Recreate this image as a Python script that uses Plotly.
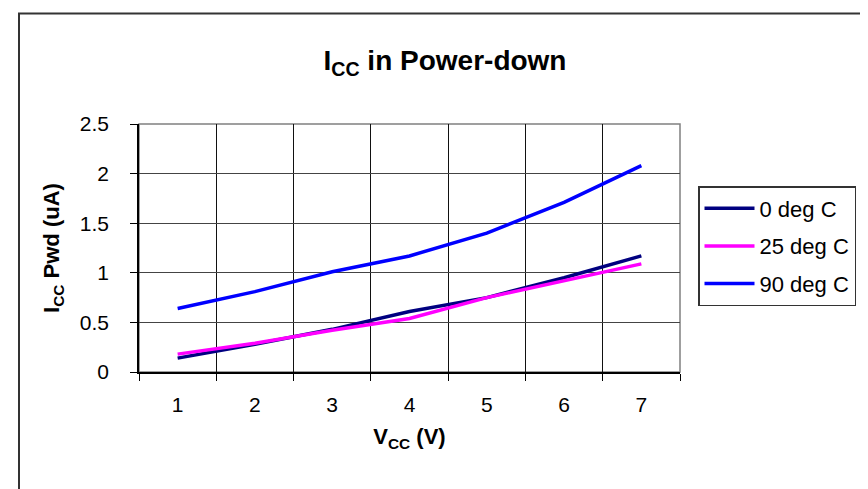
import plotly.graph_objects as go

# data
vcc = ["1", "2", "3", "4", "5", "6", "7"]
icc_0c = [0.14, 0.28, 0.43, 0.61, 0.75, 0.95, 1.17]
icc_25c = [0.18, 0.29, 0.42, 0.54, 0.75, 0.92, 1.09]
icc_90c = [0.64, 0.81, 1.01, 1.17, 1.40, 1.71, 2.08]

series = [
    ("0 deg C", icc_0c, "#000080"),
    ("25 deg C", icc_25c, "#FF00FF"),
    ("90 deg C", icc_90c, "#0000FF"),
]

W, H = 868, 489
L, R, T, B = 131, 196, 116, 125
font = "Liberation Sans, Arial, sans-serif"

fig = go.Figure()
for name, vals, col in series:
    fig.add_trace(go.Scatter(x=vcc, y=vals, name=name, mode="lines",
                             legendgroup=name,
                             line=dict(color=col, width=3.5)))

pw = W - L - R
ph = H - T - B

fig.update_layout(
    width=W, height=H,
    margin=dict(l=L, r=R, t=T, b=B),
    plot_bgcolor="white",
    paper_bgcolor="white",
    font=dict(family=font, color="black", size=21),
    title=dict(text="<b>I<sub>CC</sub> in Power-down</b>",
               x=437 / W, xref="container", xanchor="center",
               y=1 - 52 / H, yref="container", yanchor="middle",
               font=dict(size=28)),
    xaxis=dict(type="category", tickson="boundaries",
               range=[-0.5, len(vcc) - 0.5],
               showline=True, linecolor="black", linewidth=1.5,
               ticks="outside", ticklen=7, tickcolor="black",
               showgrid=True, gridcolor="#111111", gridwidth=1,
               ticklabelstandoff=13,
               title=dict(text="<b>V<sub>CC</sub> (V)</b>",
                          font=dict(size=22), standoff=14)),
    yaxis=dict(range=[0, 2.5], dtick=0.5,
               showline=True, linecolor="black", linewidth=1.5,
               ticks="outside", ticklen=7, tickcolor="black",
               showgrid=True, gridcolor="#444444", gridwidth=1,
               zeroline=False, ticklabelstandoff=17,
               title=dict(text="<b>I<sub>CC</sub> Pwd (uA)</b>",
                          font=dict(size=22), standoff=14)),
    legend=dict(x=690 / W, xref="container", xanchor="left",
                y=1 - 178 / H, yref="container", yanchor="top",
                bordercolor="#333333", borderwidth=1.5,
                font=dict(size=22), itemwidth=50,
                tracegroupgap=6),
    showlegend=True,
    shapes=[
        # outer chart border
        dict(type="rect", xref="paper", yref="paper",
             x0=(11 - L) / pw, x1=(W + 5 - L) / pw,
             y0=(H - B - H - 5) / ph, y1=(H - B - 5.5) / ph,
             line=dict(color="#333333", width=2), layer="below"),
        # plot area border
        dict(type="rect", xref="paper", yref="paper",
             x0=0, x1=1, y0=0, y1=1,
             line=dict(color="#808080", width=1.5), layer="below"),
    ],
)

fig.write_html("out.html")
